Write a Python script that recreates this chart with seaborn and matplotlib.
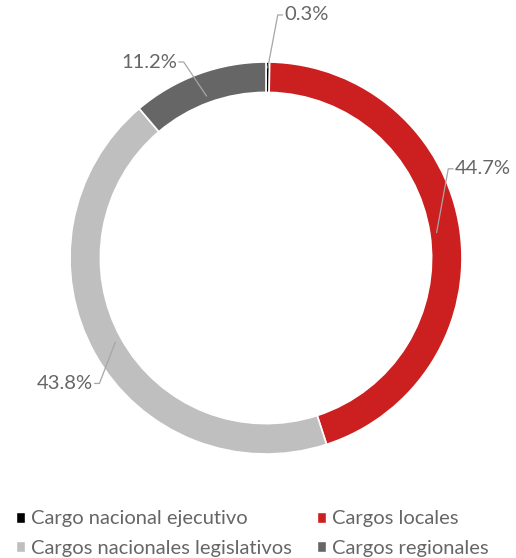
import numpy as np
import pandas as pd
import matplotlib
matplotlib.use("Agg")
import matplotlib.pyplot as plt
from matplotlib.patches import Patch
import seaborn as sns

# data
categorias = ["Cargo nacional ejecutivo", "Cargos locales",
              "Cargos nacionales legislativos", "Cargos regionales"]
porcentajes = [0.3, 44.7, 43.8, 11.2]
colores = ["#000000", "#cc1f1f", "#bfbfbf", "#666666"]

sns.set_theme(style="white")
plt.rcParams["font.family"] = ["Lato", "DejaVu Sans"]
paleta = sns.color_palette(colores)
gris_texto = "#666666"

df = pd.DataFrame({"categoria": categorias, "pct": porcentajes})

fig = plt.figure(figsize=(5.16, 5.58), dpi=100)
ax = fig.add_axes([0, 0, 1, 1])
wedges, _ = ax.pie(df["pct"], colors=paleta, startangle=90, counterclock=False,
                   radius=1, wedgeprops=dict(width=0.155, edgecolor="white", linewidth=1.2))
ax.set_aspect("auto")
ax.set_xlim(-266 / 196, 250 / 196)
ax.set_ylim(-300 / 196, 258 / 196)
ax.axis("off")

# label placement (elbow point, text side)
etiquetas = [((0.06, 1.24), "right"), ((0.93, 0.455), "right"),
             ((-0.85, -0.64), "left"), ((-0.42, 1.0), "left")]
for w, v, (codo, lado) in zip(wedges, df["pct"], etiquetas):
    ang = np.deg2rad((w.theta1 + w.theta2) / 2)
    r0 = 0.97 if v < 1 else 0.88
    x0, y0 = r0 * np.cos(ang), r0 * np.sin(ang)
    dx = 0.025 if lado == "right" else -0.025
    ax.plot([x0, codo[0], codo[0] + dx], [y0, codo[1], codo[1]],
            color="#a6a6a6", lw=0.9)
    ax.text(codo[0] + dx * 1.3, codo[1], f"{v:.1f}%", color=gris_texto,
            fontsize=14.5, va="center", ha="left" if lado == "right" else "right")

# legend, filled by column: ejecutivo, legislativos | locales, regionales
orden = [0, 2, 1, 3]
handles = [Patch(facecolor=paleta[i], edgecolor="white", label=categorias[i]) for i in orden]
fig.legend(handles=handles, loc="lower left", bbox_to_anchor=(0.0, -0.027), ncol=2,
           frameon=False, fontsize=14.5, labelcolor=gris_texto, handlelength=0.45,
           handleheight=0.45, handletextpad=0.3, columnspacing=1.25, labelspacing=0.62,
           borderpad=0.3)

plt.savefig("out.png", dpi=100)
plt.close()
